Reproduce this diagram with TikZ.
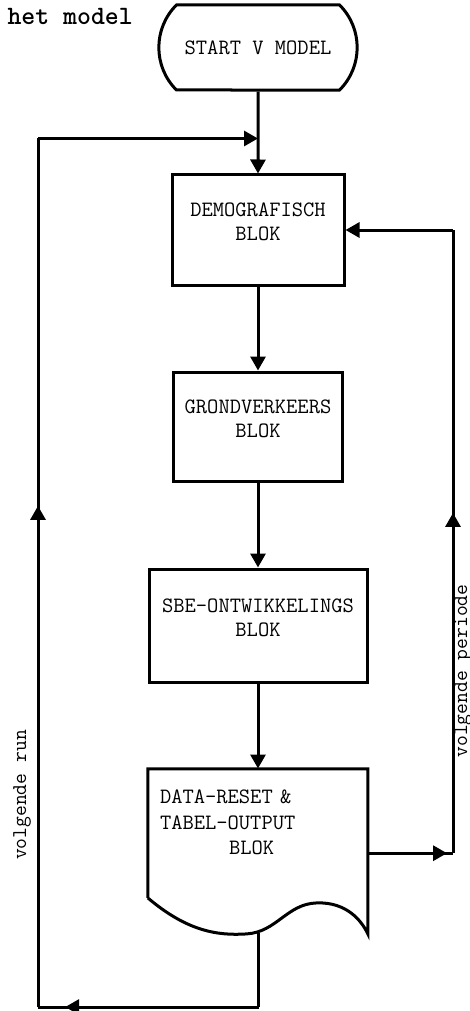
\documentclass[tikz,border=0pt]{standalone}
\usetikzlibrary{positioning,arrows.meta,shapes.misc,decorations.markings}

\begin{document}
\begin{tikzpicture}[
  x=1pt, y=-1pt,
  font=\ttfamily\fontsize{21.9}{24}\selectfont,
  box/.style={draw, line width=3pt, align=center, inner sep=4pt, text depth=16pt},
  term/.style={draw, rounded rectangle, rounded rectangle arc length=90,
               line width=3pt, minimum width=205pt, minimum height=85pt},
  docbox/.style={align=left, text width=196pt, inner xsep=12pt, text depth=73pt,
                 minimum height=129pt, font=\ttfamily\fontsize{21.9}{25.5}\selectfont},
  flow/.style={line width=3pt},
  arr/.style={flow, -{Triangle[length=14pt,width=15pt]}},
  midarr/.style={flow, postaction={decorate},
    decoration={markings, mark=at position #1 with
      {\arrow{Triangle[length=14pt,width=15pt]}}}},
  sidelabel/.style={rotate=90, anchor=base, inner sep=0pt,
                    font=\ttfamily\fontsize{21}{24}\selectfont},
  title/.style={anchor=west, font=\ttfamily\bfseries\fontsize{26.5}{28}\selectfont},
]
\useasboundingbox (0,0) rectangle (470,1011);

% ---------------------------------------------------------------- title
\node[title] (heading) at (4,16) {het model};

% ---------------------------------------------------------------- blocks
\node[term] (start) at (258,47.5) {START V MODEL};

\node[box, minimum width=172pt, minimum height=110pt, below=82pt of start] (demo)
  {DEMOGRAFISCH\\BLOK};

\node[box, minimum width=169pt, minimum height=109pt, below=84pt of demo] (grond)
  {GRONDVERKEERS\\BLOK};

\node[box, minimum width=218pt, minimum height=113pt, below=85pt of grond] (sbe)
  {SBE-ONTWIKKELINGS\\BLOK};

\node[docbox, below=85pt of sbe] (data)
  {DATA-RESET \&\\TABEL-OUTPUT\\\hspace*{69pt}BLOK};

% document outline with wavy bottom
\begin{scope}[shift={(data.south west)}]
  \draw[flow] (0,0) -- (0,-129) -- (220,-129) -- (220,36)
    .. controls (214,23) and (199,4) .. (169,5)
    .. controls (139,6) and (129,34) .. (99,36)
    .. controls (69,38) and (39,33) .. (0,0);
  \coordinate (wavebot) at (111,35);
\end{scope}

% ---------------------------------------------------------------- loop points
\coordinate (join)    at ([yshift=-47pt]start.south);
\coordinate (runbl)   at (38,1007);
\coordinate (runbr)   at (wavebot |- runbl);
\coordinate (runtl)   at (runbl |- join);
\coordinate (perx)    at (453,0);
\coordinate (perout)  at ([yshift=-20pt]data.east);
\coordinate (perbot)  at (perout -| perx);
\coordinate (pertop)  at (demo.east -| perx);

% ---------------------------------------------------------------- labels
\node[sidelabel] (runlbl) at (26,795) {volgende run};
\node[sidelabel] (perlbl) at (467,671) {volgende periode};

% ---------------------------------------------------------------- arrows
\draw[arr] (start) -- (demo);
\draw[arr] (demo)  -- (grond);
\draw[arr] (grond) -- (sbe);
\draw[arr] (sbe)   -- (data);

\draw[flow] (wavebot) -- (runbr);
\draw[midarr=0.877] (runbr) -- (runbl);
\draw[midarr=0.577] (runbl) -- (runtl);
\draw[arr] (runtl) -- (join);

\draw[midarr=0.93]  (perout) -- (perbot);
\draw[midarr=0.546] (perbot) -- (pertop);
\draw[arr] (pertop) -- (demo.east);

\end{tikzpicture}
\end{document}
